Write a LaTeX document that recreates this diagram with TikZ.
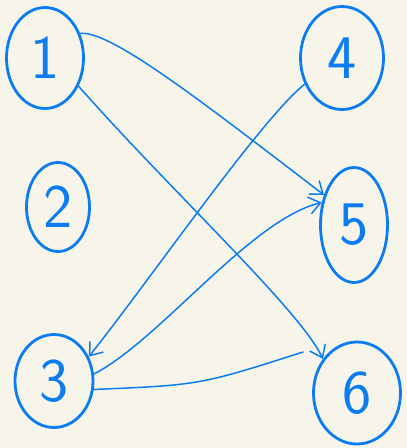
\documentclass[tikz,border=0pt]{standalone}
\usepackage{tikz}
\usetikzlibrary{arrows.meta,shapes.geometric}
\definecolor{paper}{RGB}{247,245,234}
\definecolor{pen}{RGB}{12,124,242}
\tikzset{
  vertex/.style={ellipse,draw=pen,line width=2.8pt,text=pen,inner sep=0pt,
    font=\fontsize{62}{62}\selectfont\sffamily},
  link/.style={pen,line width=1.5pt,line cap=round},
  arc/.style={link,-{Straight Barb[length=4mm,width=6mm]}}
}
\begin{document}
\begin{tikzpicture}[x=1pt,y=-1pt]
  \useasboundingbox[fill=paper] (0,0) rectangle (407,448);
  % vertices
  \node[vertex,minimum width=77pt,minimum height=101pt] (n1) at (45,58) {1};
  \node[vertex,minimum width=63pt,minimum height=89pt] (n2) at (58,207) {2};
  \node[vertex,minimum width=78pt,minimum height=93pt] (n3) at (54,381) {3};
  \node[vertex,minimum width=83pt,minimum height=103pt] (n4) at (342,58) {4};
  \node[vertex,minimum width=67pt,minimum height=115pt] (n5) at (354,225) {5};
  \node[vertex,minimum width=87pt,minimum height=102pt] (n6) at (357,393) {6};
  \coordinate (e36) at (303,352);
  % edges
  \draw[arc] (n1.35) .. controls (110,30) and (200,100) .. (n5.135);
  \draw[arc] (n1.-40) .. controls (170,190) and (300,310) .. (n6.135);
  \draw[arc] (n4.215) .. controls (260,120) and (150,280) .. (n3.35);
  \draw[arc] (n3.10) .. controls (160,340) and (250,220) .. (n5.145);
  \draw[link] (n3.-12) .. controls (200,385) .. (e36);
\end{tikzpicture}
\end{document}
